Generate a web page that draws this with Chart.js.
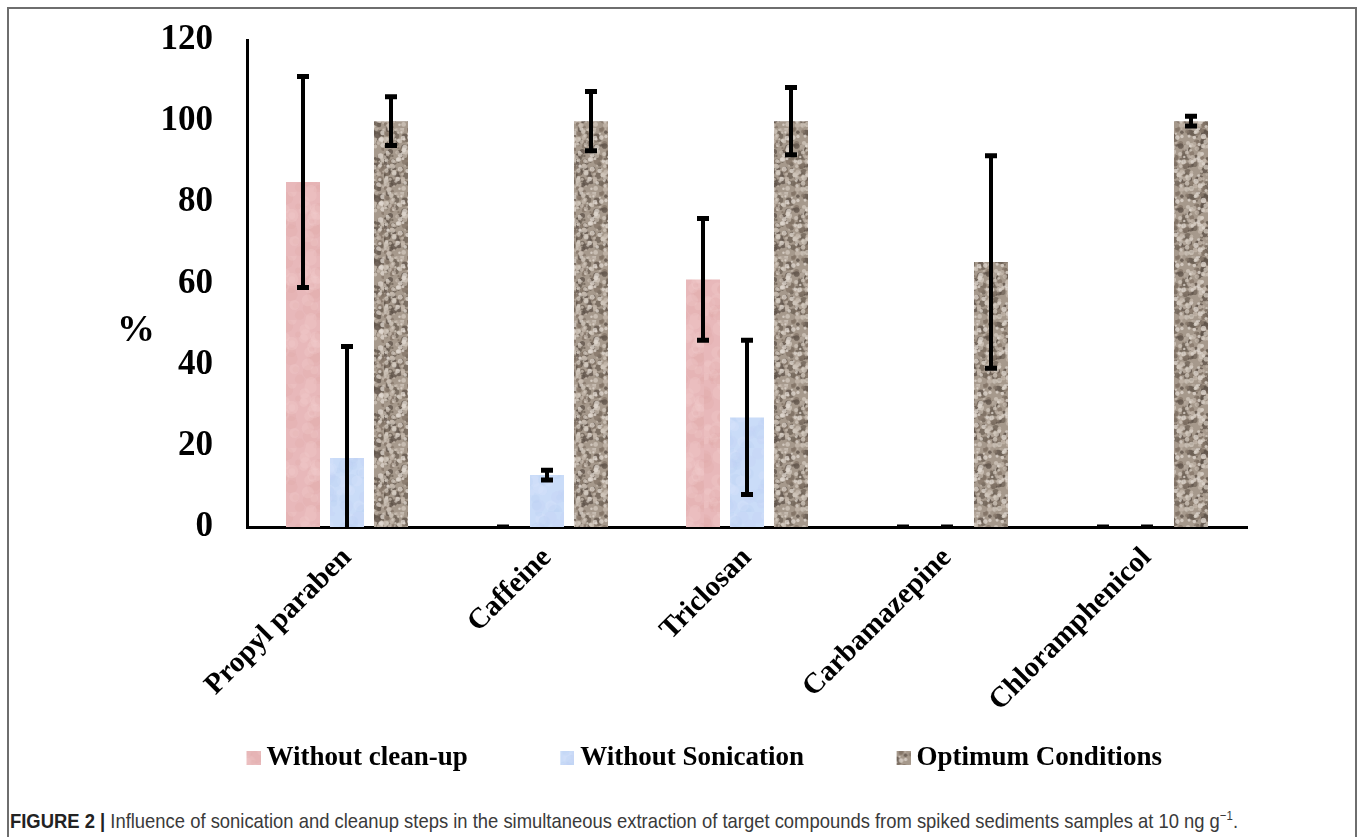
<!DOCTYPE html>
<html>
<head>
<meta charset="utf-8">
<script src="https://cdn.jsdelivr.net/npm/chart.js@4.4.1/dist/chart.umd.min.js"></script>
<style>
  html, body { margin: 0; padding: 0; background: #fff; }
  body { width: 1358px; height: 837px; position: relative; overflow: hidden; }
  #frame { position: absolute; left: 7px; top: 7px; width: 1350px; height: 900px;
           border: 2px solid #6e6e6e; box-sizing: border-box; }
  #wrap { position: absolute; left: 0; top: 0; width: 1358px; height: 800px; }
  #caption { position: absolute; left: 10px; top: 810px; line-height: 21px;
             font-family: 'Liberation Sans', Arial, sans-serif; font-size: 21px; color: #3a3a3a;
             white-space: nowrap; transform-origin: 0 0; }
  #caption b { color: #222; }
  #caption sup { font-size: 13px; line-height: 0; }
</style>
</head>
<body>
<div id="frame"></div>
<div id="wrap"><canvas id="chart"></canvas></div>
<div id="caption"><b>FIGURE 2 |</b> Influence of sonication and cleanup steps in the simultaneous extraction of target compounds from spiked sediments samples at 10 ng g<sup>&minus;1</sup>.</div>

<script>
// data
const compounds = ["Propyl paraben", "Caffeine", "Triclosan", "Carbamazepine", "Chloramphenicol"];
const seriesNames = ["Without clean-up", "Without Sonication", "Optimum Conditions"];

const noCleanup = [85, 0, 61, 0, 0];
const noCleanupErr = [26, 0, 15, 0, 0];

const noSonication = [17, 12.8, 27, 0, 0];
const noSonicationErr = [27.5, 1.2, 19, 0, 0];

const optimum = [100, 100, 100, 65.3, 100];
const optimumErr = [6, 7.3, 8.3, 26.2, 1.2];

const yTicks = [0, 20, 40, 60, 80, 100, 120];

const SERIF = "'Liberation Serif', 'Times New Roman', serif";

// simple seeded generator, only for the bar textures
function makeRand(seed) {
  let s = seed;
  return () => {
    s = (s * 1664525 + 1013904223) % 4294967296;
    return s / 4294967296;
  };
}

function texture(base, spots, seed) {
  const c = document.createElement("canvas");
  c.width = 64; c.height = 64;
  const g = c.getContext("2d");
  const rnd = makeRand(seed);
  g.fillStyle = base;
  g.fillRect(0, 0, 64, 64);
  spots.forEach(sp => {
    for (let i = 0; i < sp.n; i++) {
      g.fillStyle = sp.colors[Math.floor(rnd() * sp.colors.length)];
      g.globalAlpha = sp.alpha;
      g.beginPath();
      g.arc(rnd() * 64, rnd() * 64, sp.r * (0.5 + rnd()), 0, Math.PI * 2);
      g.fill();
    }
  });
  g.globalAlpha = 1;
  return c;
}

const pinkTex = texture("#e8b8ba", [
  { n: 60, r: 5, alpha: 0.25, colors: ["#dea6a9", "#f2cfcf"] }
], 7);
const blueTex = texture("#cadcf8", [
  { n: 60, r: 5, alpha: 0.3, colors: ["#b9cff3", "#d9e6fb", "#c4d0f5"] }
], 11);
const brownTex = texture("#a6998c", [
  { n: 200, r: 2.2, alpha: 0.75, colors: ["#6f6357", "#5e5248", "#847668"] },
  { n: 200, r: 1.8, alpha: 0.75, colors: ["#d2c8be", "#e0d8d0", "#c4b8ac"] }
], 23);

const ctx = document.getElementById("chart").getContext("2d");
const pinkFill = ctx.createPattern(pinkTex, "repeat");
const blueFill = ctx.createPattern(blueTex, "repeat");
const brownFill = ctx.createPattern(brownTex, "repeat");

// legend marker: 14px square sitting at the right end of a wider image
const LEGEND_BOX = 84;
function legendMarker(tex) {
  const c = document.createElement("canvas");
  c.width = LEGEND_BOX + 15; c.height = 14;
  const g = c.getContext("2d");
  g.fillStyle = g.createPattern(tex, "repeat");
  g.fillRect(c.width - 14, 0, 14, 14);
  return c;
}
const markers = [legendMarker(pinkTex), legendMarker(blueTex), legendMarker(brownTex)];

const errors = [noCleanupErr, noSonicationErr, optimumErr];

const errorBars = {
  id: "errorBars",
  afterDatasetsDraw(chart) {
    const { ctx, chartArea, scales: { y } } = chart;
    ctx.save();
    ctx.beginPath();
    ctx.rect(chartArea.left, chartArea.top - 10, chartArea.width, chartArea.height + 10);
    ctx.clip();
    ctx.strokeStyle = "#000";
    chart.data.datasets.forEach((ds, i) => {
      const meta = chart.getDatasetMeta(i);
      meta.data.forEach((bar, j) => {
        const v = ds.data[j], e = errors[i][j];
        const top = y.getPixelForValue(v + e);
        const bot = y.getPixelForValue(v - e);
        ctx.lineWidth = 4;
        ctx.beginPath();
        ctx.moveTo(bar.x, top);
        ctx.lineTo(bar.x, bot);
        ctx.stroke();
        ctx.lineWidth = 5;
        ctx.beginPath();
        ctx.moveTo(bar.x - 6, top); ctx.lineTo(bar.x + 6, top);
        ctx.moveTo(bar.x - 6, bot); ctx.lineTo(bar.x + 6, bot);
        ctx.stroke();
      });
    });
    ctx.restore();
  }
};

const percentLabel = {
  id: "percentLabel",
  afterDraw(chart) {
    const { ctx } = chart;
    ctx.save();
    ctx.font = "bold 38px " + SERIF;
    ctx.fillStyle = "#000";
    ctx.textAlign = "center";
    ctx.textBaseline = "middle";
    ctx.fillText("%", 136, 331);
    ctx.restore();
  }
};

new Chart(ctx, {
  type: "bar",
  data: {
    labels: compounds,
    datasets: [
      { label: seriesNames[0], data: noCleanup, backgroundColor: pinkFill },
      { label: seriesNames[1], data: noSonication, backgroundColor: blueFill },
      { label: seriesNames[2], data: optimum, backgroundColor: brownFill }
    ]
  },
  options: {
    responsive: true,
    maintainAspectRatio: false,
    animation: false,
    categoryPercentage: 0.66,
    barPercentage: 0.773,
    layout: { padding: { left: 154, right: 111, top: 40, bottom: 18.5 } },
    scales: {
      x: {
        grid: { display: false },
        border: { display: true, color: "#000", width: 3 },
        ticks: {
          color: "#000",
          font: { family: SERIF, size: 29, weight: "bold" },
          minRotation: 45, maxRotation: 45, autoSkip: false, padding: 6
        },
        afterFit(scale) { scale.height = 202.5; }
      },
      y: {
        min: 0, max: 120,
        grid: { display: false },
        border: { display: true, color: "#000", width: 3 },
        afterBuildTicks(scale) { scale.ticks = yTicks.map(v => ({ value: v })); },
        ticks: {
          color: "#000",
          font: { family: SERIF, size: 35, weight: "bold" },
          padding: 26
        },
        afterFit(scale) {
          scale.width = 93;
          scale.paddingTop = 20;
          scale.paddingBottom = 20;
        }
      }
    },
    plugins: {
      tooltip: { enabled: false },
      legend: {
        position: "bottom",
        align: "start",
        labels: {
          color: "#000",
          font: { family: SERIF, size: 27, weight: "bold" },
          usePointStyle: true,
          pointStyleWidth: LEGEND_BOX,
          padding: 15,
          generateLabels(chart) {
            const items = Chart.defaults.plugins.legend.labels.generateLabels(chart);
            items.forEach((it, i) => { it.pointStyle = markers[i]; });
            return items;
          }
        }
      }
    }
  },
  plugins: [errorBars, percentLabel]
});

// squeeze the caption to the width it has in the figure
const cap = document.getElementById("caption");
cap.style.transform = "scaleX(" + (1228 / cap.getBoundingClientRect().width) + ")";
</script>
</body>
</html>
